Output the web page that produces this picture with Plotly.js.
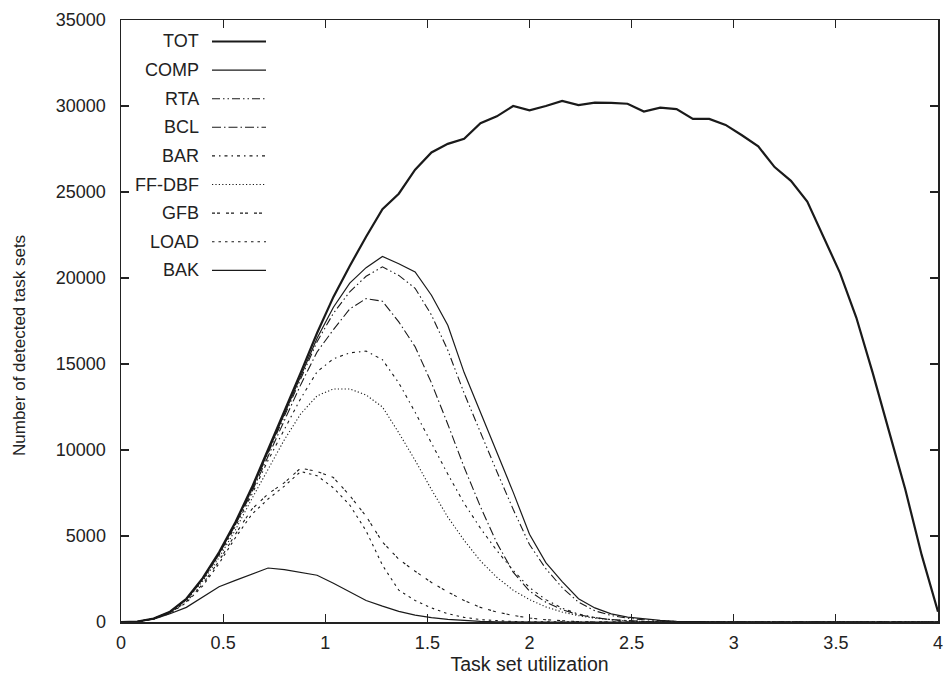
<!DOCTYPE html>
<html>
<head>
<meta charset="utf-8">
<script src="https://cdn.plot.ly/plotly-3.0.1.min.js"></script>
<style>html,body{margin:0;padding:0;background:#fff;}#chart{width:945px;height:682px;}</style>
</head>
<body>
<div id="chart"></div>
<script>
// ---- data ----
var utilization = [0,0.08,0.16,0.24,0.32,0.4,0.48,0.56,0.64,0.72,0.8,0.88,0.96,1.04,1.12,1.2,1.28,1.36,1.44,1.52,1.6,1.68,1.76,1.84,1.92,2,2.08,2.16,2.24,2.32,2.4,2.48,2.56,2.64,2.72,2.8,2.88,2.96,3.04,3.12,3.2,3.28,3.36,3.44,3.52,3.6,3.68,3.76,3.84,3.92,4];

var TOT  = [0,30,200,600,1350,2550,4050,5800,7800,10000,12200,14500,16800,18900,20700,22400,24000,24900,26300,27300,27800,28100,29000,29400,30000,29750,30000,30300,30050,30200,30180,30130,29680,29900,29820,29250,29250,28900,28300,27650,26450,25650,24450,22400,20300,17700,14500,11100,7700,3900,600];
var COMP = [0,30,195,590,1330,2520,4000,5750,7700,9900,12050,14300,16500,18300,19700,20600,21250,20830,20350,19000,17250,14500,12200,9900,7550,5100,3450,2350,1350,820,470,280,170,90,45,20,8,0,0,0,0,0,0,0,0,0,0,0,0,0,0];
var RTA  = [0,30,195,585,1320,2500,3970,5700,7650,9800,11900,14100,16300,17950,19200,20100,20650,20150,19400,17850,15800,13300,11000,8750,6550,4500,3100,2000,1150,650,380,220,130,70,30,10,0,0,0,0,0,0,0,0,0,0,0,0,0,0,0];
var BCL  = [0,30,195,580,1310,2480,3940,5650,7550,9650,11700,13800,15700,17000,18200,18800,18650,17450,16000,13900,11500,9000,6700,4600,2900,1800,1150,720,420,250,140,70,30,10,0,0,0,0,0,0,0,0,0,0,0,0,0,0,0,0,0];
var BAR  = [0,30,190,570,1290,2440,3880,5550,7400,9400,11200,13000,14550,15300,15650,15750,15250,13900,12200,10400,8600,6900,5450,4150,3000,2000,1300,800,460,260,130,60,25,8,0,0,0,0,0,0,0,0,0,0,0,0,0,0,0,0,0];
var FFDBF= [0,28,185,550,1250,2370,3750,5350,7150,8900,10600,12100,13150,13550,13550,13200,12500,11000,9400,7700,6100,4750,3550,2600,1850,1300,880,580,370,220,120,60,25,8,0,0,0,0,0,0,0,0,0,0,0,0,0,0,0,0,0];
var GFB  = [0,28,180,520,1180,2200,3550,5100,6550,7450,8100,8950,8750,8400,7350,6150,4650,3650,2950,2300,1750,1250,850,580,380,230,130,60,20,0,0,0,0,0,0,0,0,0,0,0,0,0,0,0,0,0,0,0,0,0,0];
var LOAD = [0,27,175,500,1130,2100,3400,4900,6250,7150,7900,8750,8500,7800,6800,5300,3300,1850,1250,820,480,270,140,65,25,8,0,0,0,0,0,0,0,0,0,0,0,0,0,0,0,0,0,0,0,0,0,0,0,0,0];
var BAK  = [0,20,170,480,850,1450,2050,2420,2780,3140,3050,2900,2720,2250,1750,1250,920,620,400,250,150,80,40,15,0,0,0,0,0,0,0,0,0,0,0,0,0,0,0,0,0,0,0,0,0,0,0,0,0,0,0];

var seriesNames = ["TOT","COMP","RTA","BCL","BAR","FF-DBF","GFB","LOAD","BAK"];
var seriesData  = [TOT, COMP, RTA, BCL, BAR, FFDBF, GFB, LOAD, BAK];

var xTickVals = [0,0.5,1,1.5,2,2.5,3,3.5,4];
var xTickText = ["0","0.5","1","1.5","2","2.5","3","3.5","4"];
var yTickVals = [0,5000,10000,15000,20000,25000,30000,35000];
var yTickText = ["0","5000","10000","15000","20000","25000","30000","35000"];
var xTitle = "Task set utilization";
var yTitle = "Number of detected task sets";

// ---- styles ----
var lineColor = "#1a1a1a";
var fontFam = "Liberation Sans, Arial, sans-serif";
var styles = [
  {width:2.2, dash:"solid"},
  {width:1.2, dash:"solid"},
  {width:1.1, dash:"8px,3px,1.5px,3px,1.5px,3px"},
  {width:1.1, dash:"9px,3px,1.5px,3px"},
  {width:1.1, dash:"3px,4px,1.5px,4px"},
  {width:1.1, dash:"1.2px,2.2px"},
  {width:1.1, dash:"3px,2px,3px,6px"},
  {width:1.1, dash:"2.5px,4px"},
  {width:1.2, dash:"solid"}
];

var traces = seriesNames.map(function(n,i){
  return {x: utilization, y: seriesData[i], type:"scatter", mode:"lines", name:n,
          line:{color:lineColor, width:styles[i].width, dash:styles[i].dash}, showlegend:false, hoverinfo:"skip"};
});

// ---- custom key (gnuplot style: text right, sample left) ----
var W=945, H=682, L=121, R=7, T=20, B=60;
var pw=W-L-R, ph=H-T-B;
function px(xp){return (xp-L)/pw;}
function py(yp){return 1-(yp-T)/ph;}
var shapes=[], annotations=[];
seriesNames.forEach(function(n,i){
  var yy = 41.5 + i*28.6;
  annotations.push({xref:"paper", yref:"paper", x:px(201), y:py(yy), xanchor:"right", yanchor:"middle",
    text:n, showarrow:false, font:{family:fontFam, size:18, color:"#222"}});
  shapes.push({type:"line", xref:"paper", yref:"paper", x0:px(212), x1:px(266), y0:py(yy), y1:py(yy),
    line:{color:lineColor, width:styles[i].width, dash:styles[i].dash}});
});
// y axis label (placed like the gnuplot ylabel)
annotations.push({xref:"paper", yref:"paper", x:px(19), y:py(346), xanchor:"center", yanchor:"middle",
  textangle:-90, text:yTitle, showarrow:false, font:{family:fontFam, size:17, color:"#222"}});

var axisCommon = {showgrid:false, zeroline:false, showline:true, linecolor:"#222", linewidth:1.5,
  ticks:"inside", ticklen:8, tickwidth:1.2, tickcolor:"#222", mirror:"ticks",
  tickfont:{family:fontFam, size:18, color:"#222"}};

var layout = {
  width:W, height:H, margin:{l:L, r:R, t:T, b:B}, paper_bgcolor:"#fff", plot_bgcolor:"#fff",
  font:{family:fontFam, size:18, color:"#222"},
  xaxis: Object.assign({}, axisCommon, {range:[0,4], tickmode:"array", tickvals:xTickVals, ticktext:xTickText,
    ticklabelstandoff:4,
    title:{text:xTitle, standoff:4, font:{size:19.5, color:"#222"}}}),
  yaxis: Object.assign({}, axisCommon, {range:[0,35000], tickmode:"array", tickvals:yTickVals, ticktext:yTickText,
    ticklabelstandoff:10}),
  showlegend:false, shapes:shapes, annotations:annotations
};

Plotly.newPlot("chart", traces, layout, {displayModeBar:false, staticPlot:true});
</script>
</body>
</html>
